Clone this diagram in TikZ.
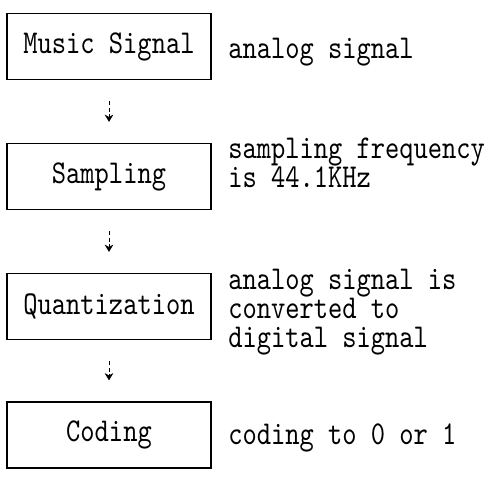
\documentclass[tikz,border=0pt]{standalone}
\usepackage{fontspec}
\usetikzlibrary{arrows.meta}

\newfontfamily\dotfamily[FakeStretch=0.815]{lmmono10-regular.otf}
\newcommand\dotfont{\dotfamily\fontsize{25}{21.75}\selectfont}

\tikzset{
  stage/.style={draw, line width=0.9pt, minimum width=153pt, minimum height=49.5pt,
    inner sep=0pt, font=\dotfont},
  note/.style={anchor=base west, align=left, inner sep=0pt, font=\dotfont},
  flow/.style={densely dashed, line width=0.6pt, -{Stealth[length=5.5pt,width=6.5pt]},
    shorten <=15.75pt, shorten >=15.75pt}
}

\begin{document}
\begin{tikzpicture}[x=0.75pt,y=0.75pt,yscale=-1]
        \useasboundingbox (0,0) rectangle (493,479);

        % Stages
        \node [stage] (music) at (109,46.5) {Music Signal};
        \node [stage] (sampling) at (109,176.5) {Sampling};
        \node [stage] (quant) at (109,306.5) {Quantization};
        \node [stage] (coding) at (109,435) {Coding};

        % Flow arrows
        \draw [flow] (music) -- (sampling);
        \draw [flow] (sampling) -- (quant);
        \draw [flow] (quant) -- (coding);

        % Text Node (base = last line)
        \node [note] (music-note) at (228,58) {analog signal};
        % Text Node
        \node [note] (sampling-note) at (228,187) {sampling frequency\\is 44.1KHz};
        % Text Node
        \node [note] (quant-note) at (228,347) {analog signal is\\converted to\\digital signal};
        % Text Node
        \node [note] (coding-note) at (228,444) {coding to 0 or 1};

\end{tikzpicture}
\end{document}
